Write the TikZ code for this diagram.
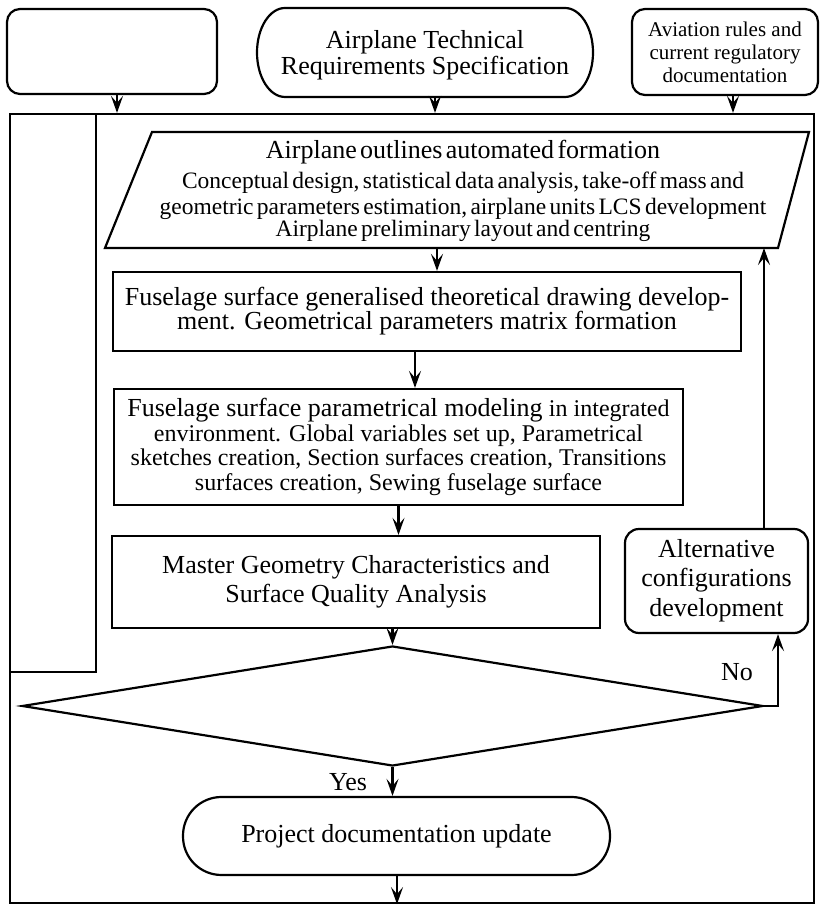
\documentclass[tikz,border=0pt]{standalone}
\usepackage{fontspec}
\setmainfont{Liberation Serif}
\usetikzlibrary{arrows.meta,shapes.geometric,calc}
\begin{document}
\begin{tikzpicture}[x=1pt,y=1pt,
  ln/.style={line width=2.2pt},
  arr/.style={ln,-{Stealth[length=17pt,width=12pt,inset=7pt]}},
  sbox/.style={draw,ln,inner sep=0pt,align=center},
  rbox/.style={sbox,rounded corners=13pt},
  txt/.style={inner sep=0pt,align=center},
  main/.style={font=\fontsize{26}{24}\selectfont},
]
\useasboundingbox (0,0) rectangle (820,905);

% outer frame and the narrow left column
\node[sbox,minimum width=804pt,minimum height=789pt] (frame) at (412,396.5) {};
\node[sbox,minimum width=86pt,minimum height=558pt] (side) at (53,512) {};

% inputs along the top
\node[rbox,minimum width=210pt,minimum height=85pt] (tl) at (112,853.5) {};
\node[txt,main,font=\fontsize{26}{26.5}\selectfont] (tech) at (425,849.5)
  {Airplane Technical\\Requirements Specification};
\coordinate (techC) at (425,852.5);
\draw[ln] ([xshift=28pt,yshift=44.5pt]techC) -- ([xshift=140pt,yshift=44.5pt]techC)
  arc[start angle=90,end angle=-90,x radius=28pt,y radius=44.5pt]
  -- ([xshift=-140pt,yshift=-44.5pt]techC)
  arc[start angle=270,end angle=90,x radius=28pt,y radius=44.5pt] -- cycle;
\coordinate (techS) at ([xshift=10pt,yshift=-44.5pt]techC);
\node[rbox,minimum width=186pt,minimum height=86pt,font=\fontsize{21}{23}\selectfont] (rules) at (725,853)
  {Aviation rules and\\current regulatory\\documentation};

% automated outlines formation block
\coordinate (pTL) at (152,773);
\coordinate (pTR) at (809,773);
\coordinate (pBR) at (778,657);
\coordinate (pBL) at (105,657);
\draw[ln] (pTL) -- (pTR) -- (pBR) -- (pBL) -- cycle;
\node[txt,text width=700pt] (outl) at (463,714) {%
  \fontsize{26}{26}\selectfont Airplane outlines automated formation\\[4.5pt]
  \fontsize{23.5}{25.5}\selectfont Conceptual design, statistical data analysis, take-off mass and\\
  geometric parameters estimation, airplane units LCS development\\
  Airplane preliminary layout and centring};

% processing steps
\node[sbox,main,minimum width=628pt,minimum height=79pt] (b2) at (427,593.5)
  {Fuselage surface generalised theoretical drawing develop-\\ment. Geometrical parameters matrix formation};
\node[sbox,minimum width=569pt,minimum height=116pt] (b3) at (398.5,458) {%
  \raisebox{3pt}{\parbox{560pt}{\centering
  \fontsize{26}{24}\selectfont Fuselage surface parametrical modeling {\fontsize{24}{24}\selectfont in integrated}\\
  \fontsize{24}{24.5}\selectfont environment. Global variables set up, Parametrical\\
  sketches creation, Section surfaces creation, Transitions\\
  surfaces creation, Sewing fuselage surface}}};
\node[sbox,font=\fontsize{26}{29.5}\selectfont,minimum width=488pt,minimum height=92pt] (b4) at (356,323)
  {Master Geometry Characteristics and\\Surface Quality Analysis};
\node[rbox,rounded corners=14pt,font=\fontsize{26}{29.5}\selectfont,minimum width=183pt,minimum height=104pt] (alt) at (716.5,324)
  {\raisebox{-3pt}{\begin{tabular}{@{}c@{}}Alternative\\configurations\\development\end{tabular}}};

% decision
\node[draw,ln,diamond,inner sep=0pt,minimum width=741pt,minimum height=120pt] (dec) at (392.5,199) {};
\node[txt,main] (no) at (737,233) {No};
\node[txt,main] (yes) at (348,123) {Yes};

% output
\node[sbox,rounded corners=38.5pt,main,minimum width=427pt,minimum height=78pt] (proj) at (396.5,69)
  {\raisebox{-3pt}{Project documentation update}};

% connectors
\draw[arr] ([xshift=5pt]tl.south) -- ([xshift=5pt]tl.south |- frame.north);
\draw[arr] (techS) -- (techS |- frame.north);
\draw[arr] ([xshift=8pt]rules.south) -- ([xshift=8pt]rules.south |- frame.north);
\draw[arr] ([xshift=10pt]b2.north |- pBL) -- ([xshift=10pt]b2.north);
\draw[arr] ([xshift=-12pt]b2.south) -- ([xshift=-12pt]b2.south |- b3.north);
\draw[arr] (b3.south) -- (b3.south |- b4.north);
\draw[arr] (dec.north |- b4.south) -- (dec.north);
\draw[arr] (dec.east) -| ([xshift=61.5pt]alt.south);
\draw[arr] ([xshift=47.5pt]alt.north) -- ([xshift=47.5pt]alt.north |- pBR);
\draw[arr] (dec.south) -- (dec.south |- proj.north);
\draw[arr] ([xshift=0.5pt]proj.south) -- ([xshift=0.5pt]proj.south |- frame.south);
\end{tikzpicture}
\end{document}
